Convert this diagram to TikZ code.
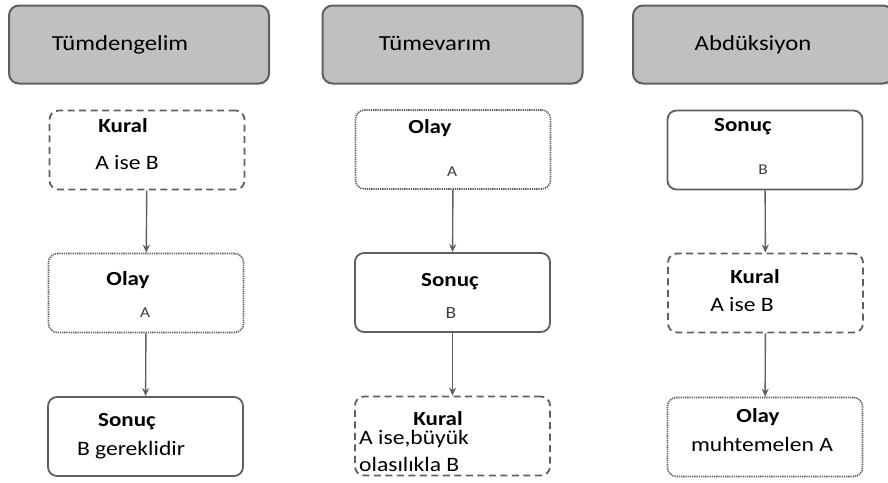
\documentclass[tikz,border=0pt]{standalone}
\usepackage{fontspec}
\setmainfont{Carlito}[FakeStretch=1.15]
\usetikzlibrary{arrows.meta}
\definecolor{headgray}{RGB}{192,192,192}
\definecolor{edgegray}{RGB}{95,95,95}
\definecolor{txtgray}{RGB}{60,60,60}
\begin{document}
\begin{tikzpicture}[x=1pt, y=-1pt,
    >={Stealth[length=8pt,width=7pt]},
    head/.style={draw=edgegray, fill=headgray, line width=2pt, rounded corners=10pt,
      minimum width=260pt, minimum height=78pt},
    box/.style={draw=edgegray, line width=1.8pt, rounded corners=9pt,
      minimum width=195pt, minimum height=79pt},
    dashbox/.style={box, dash pattern=on 7pt off 4.5pt},
    dotbox/.style={box, line width=1.6pt, dash pattern=on 1.3pt off 0.9pt},
    ttl/.style={inner sep=0pt, anchor=base, font=\fontsize{21.5}{25}\selectfont},
    lbl/.style={inner sep=0pt, font=\bfseries\fontsize{20}{24}\selectfont},
    txt/.style={inner sep=0pt, font=\fontsize{20.5}{24}\selectfont},
    sml/.style={inner sep=0pt, text=txtgray, font=\fontsize{15}{18}\selectfont}]
    \useasboundingbox (0,0) rectangle (888,482);

    % column titles
    \node[head] (h0) at (139, 44.5) {};
    \node[head] (h1) at (452.5, 44.5) {};
    \node[head] (h2) at (763, 44.5) {};
    \node[ttl] (t0) at (120, 50) {Tümdengelim};
    \node[ttl] (t1) at (435, 50) {Tümevarım};
    \node[ttl] (t2) at (753, 50) {Abdüksiyon};

    % Tümdengelim
    \node[dashbox] (a0) at (147, 150) {};
    \node[dotbox] (a1) at (146, 293) {};
    \node[box] (a2) at (145.5, 436.5) {};
    \node[lbl] at (123, 126) {Kural};
    \node[txt] at (127, 163) {A ise B};
    \node[lbl] at (128, 280) {Olay};
    \node[sml] at (145, 313) {A};
    \node[lbl] at (127, 422) {Sonuç};
    \node[txt] at (131, 450) {B gereklidir};

    % Tümevarım
    \node[dotbox] (b0) at (453, 149.5) {};
    \node[box] (b1) at (452.5, 292.5) {};
    \node[dashbox] (b2) at (452.5, 436) {};
    \node[lbl] at (430, 128) {Olay};
    \node[sml] at (452, 172) {A};
    \node[lbl] at (450, 282) {Sonuç};
    \node[sml, font=\fontsize{17}{20}\selectfont] at (451, 313) {B};
    \node[lbl] at (438, 419) {Kural};
    \node[txt, anchor=west] at (359, 439) {A ise,büyük};
    \node[txt, anchor=west] at (359, 464) {olasılıkla B};

    % Abdüksiyon
    \node[box] (c0) at (765, 150) {};
    \node[dashbox] (c1) at (765.5, 293) {};
    \node[dotbox] (c2) at (765, 437) {};
    \node[lbl] at (743, 127) {Sonuç};
    \node[sml] at (763, 170) {B};
    \node[lbl] at (755, 277) {Kural};
    \node[txt] at (742, 305) {A ise B};
    \node[lbl] at (758, 417) {Olay};
    \node[txt] at (762, 444) {muhtemelen A};

    \draw[->, edgegray, line width=1.4pt] (a0) -- (a1);
    \draw[->, edgegray, line width=1.4pt] (a1) -- (a2);
    \draw[->, edgegray, line width=1.4pt] (b0) -- (b1);
    \draw[->, edgegray, line width=1.4pt] (b1) -- (b2);
    \draw[->, edgegray, line width=1.4pt] (c0) -- (c1);
    \draw[->, edgegray, line width=1.4pt] (c1) -- (c2);
  \end{tikzpicture}
\end{document}
